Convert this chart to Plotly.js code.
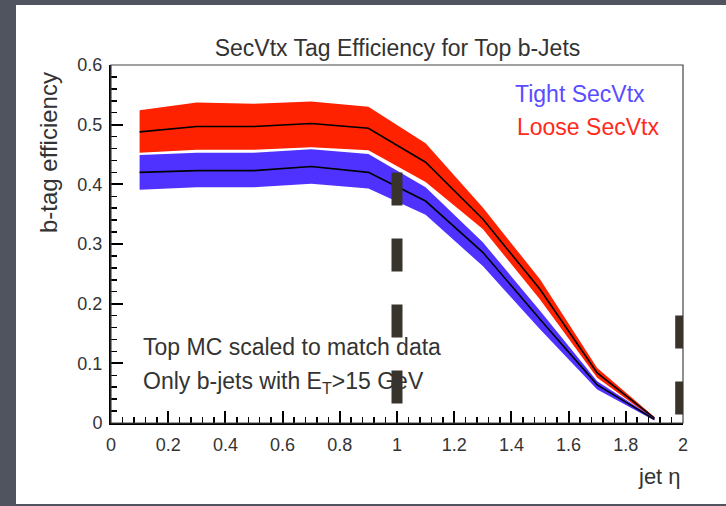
<!DOCTYPE html>
<html>
<head>
<meta charset="utf-8">
<script src="https://cdn.plot.ly/plotly-3.0.1.min.js"></script>
<style>
  html, body { margin: 0; padding: 0; width: 726px; height: 506px; background: #50545e; overflow: hidden; }
  #chart { position: absolute; left: 16px; top: 5px; width: 710px; height: 499px; }
</style>
</head>
<body>
<div id="chart"></div>
<script>
// ---- data ----
const eta       = [0.1, 0.3, 0.5, 0.7, 0.9, 1.1, 1.3, 1.5, 1.7, 1.9];
const looseEff  = [0.488, 0.497, 0.497, 0.502, 0.494, 0.437, 0.342, 0.224, 0.084, 0.008];
const looseHi   = [0.524, 0.537, 0.535, 0.539, 0.530, 0.469, 0.361, 0.241, 0.092, 0.010];
const looseLo   = [0.453, 0.458, 0.458, 0.462, 0.457, 0.404, 0.325, 0.207, 0.076, 0.006];
const tightEff  = [0.420, 0.423, 0.423, 0.430, 0.420, 0.372, 0.286, 0.174, 0.064, 0.006];
const tightHi   = [0.449, 0.453, 0.453, 0.459, 0.451, 0.395, 0.303, 0.188, 0.070, 0.008];
const tightLo   = [0.391, 0.395, 0.395, 0.401, 0.393, 0.349, 0.263, 0.157, 0.056, 0.004];
const seriesNames = ["Tight SecVtx", "Loose SecVtx"];
const xTickVals = [0, 0.2, 0.4, 0.6, 0.8, 1, 1.2, 1.4, 1.6, 1.8, 2];
const yTickVals = [0, 0.1, 0.2, 0.3, 0.4, 0.5, 0.6];
// thick dashed overlay markers: [x, yTop, yBottom]
const dashMarkX   = [1.0, 1.992];
const dashMarkTop = [0.42, 0.18];
const dashMarkBot = [0.027, 0.014];

const FONT = "Liberation Sans, Arial, Helvetica, sans-serif";
const RED = "#ff2200", BLUE = "#4f32ff";

function band(lo, hi, color) {
  return {
    x: eta.concat(eta.slice().reverse()),
    y: hi.concat(lo.slice().reverse()),
    type: "scatter", mode: "lines", fill: "toself",
    fillcolor: color, line: { width: 0, color: color },
    hoverinfo: "skip", showlegend: false
  };
}
function center(y) {
  return { x: eta, y: y, type: "scatter", mode: "lines",
           line: { color: "#000", width: 1.6 }, showlegend: false };
}

const traces = [
  band(looseLo, looseHi, RED), center(looseEff),
  band(tightLo, tightHi, BLUE), center(tightEff)
];

const shapes = [
  { type: "rect", xref: "paper", yref: "paper", x0: 0, x1: 1, y0: 0, y1: 1,
    line: { color: "#444", width: 1.2 }, layer: "above" }
];
for (let i = 0; i < dashMarkX.length; i++) {
  shapes.push({ type: "line", xref: "x", yref: "y",
    x0: dashMarkX[i], x1: dashMarkX[i], y0: dashMarkTop[i], y1: dashMarkBot[i],
    line: { color: "#38342c", width: 11, dash: "33px,33px" }, layer: "above" });
}

const axisCommon = {
  showgrid: false, zeroline: false, showline: true, linecolor: "#000", linewidth: 2,
  ticks: "inside", ticklen: 12, tickwidth: 2, tickcolor: "#000",
  tickfont: { family: FONT, size: 18, color: "#333" }
};

const layout = {
  width: 710, height: 499,
  margin: { l: 95, r: 43, t: 60, b: 81 },
  paper_bgcolor: "#ffffff", plot_bgcolor: "#ffffff",
  showlegend: false,
  title: { text: "SecVtx Tag Efficiency for Top b-Jets",
           font: { family: FONT, size: 23, color: "#333" },
           x: 381.5 / 710, xanchor: "center", xref: "container",
           y: 1 - 43 / 499, yanchor: "middle", yref: "container" },
  xaxis: Object.assign({}, axisCommon, {
    range: [0, 2], tickvals: xTickVals, ticktext: xTickVals.map(String),
    ticklabelstandoff: 4,
    minor: { dtick: 0.04, ticks: "inside", ticklen: 6, tickwidth: 1.5, tickcolor: "#000" }
  }),
  yaxis: Object.assign({}, axisCommon, {
    range: [0, 0.6], tickvals: yTickVals, ticktext: yTickVals.map(String),
    ticklabelstandoff: 3,
    minor: { dtick: 0.02, ticks: "inside", ticklen: 6, tickwidth: 1.5, tickcolor: "#000" }
  }),
  shapes: shapes,
  annotations: [
    { text: "b-tag efficiency", textangle: -90, xref: "paper", yref: "paper",
      x: 0, xshift: -63, y: 0.754, xanchor: "center", yanchor: "middle", showarrow: false,
      font: { family: FONT, size: 24, color: "#333" } },
    { text: "jet η", xref: "paper", yref: "paper", x: 1, y: 0, yshift: -53,
      xanchor: "right", yanchor: "middle", showarrow: false,
      font: { family: FONT, size: 22, color: "#333" } },
    { text: seriesNames[0], xref: "x", yref: "y", x: 1.405, y: 0.552,
      xanchor: "left", yanchor: "middle", showarrow: false,
      font: { family: FONT, size: 23, color: "#5a4cff" } },
    { text: seriesNames[1], xref: "x", yref: "y", x: 1.413, y: 0.496,
      xanchor: "left", yanchor: "middle", showarrow: false,
      font: { family: FONT, size: 23, color: "#ff2a1a" } },
    { text: "Top MC scaled to match data", xref: "x", yref: "y", x: 0.104, y: 0.128,
      xanchor: "left", yanchor: "middle", showarrow: false,
      font: { family: FONT, size: 23, color: "#333" } },
    { text: "Only b-jets with E<sub>T</sub>>15 GeV", xref: "x", yref: "y", x: 0.104, y: 0.068,
      xanchor: "left", yanchor: "middle", showarrow: false,
      font: { family: FONT, size: 23, color: "#333" } }
  ]
};

Plotly.newPlot("chart", traces, layout, { displayModeBar: false, staticPlot: true });
</script>
</body>
</html>
